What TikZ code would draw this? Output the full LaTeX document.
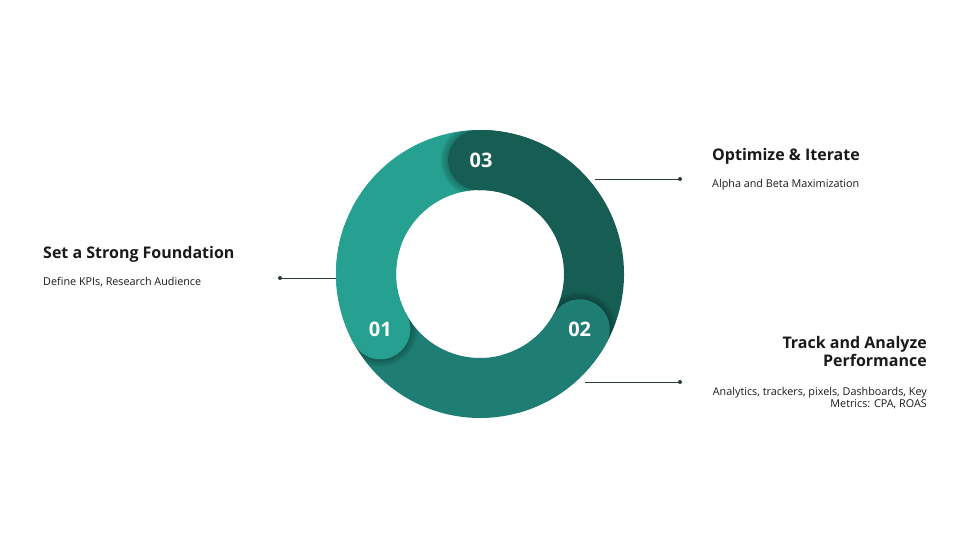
\documentclass[tikz,border=0pt]{standalone}
\usepackage{fontspec}
\setmainfont{Open Sans}
\usetikzlibrary{calc}
\definecolor{tealA}{HTML}{25A091}
\definecolor{tealB}{HTML}{1E7E73}
\definecolor{tealC}{HTML}{165E54}
\definecolor{inkline}{HTML}{2E3D3A}
\definecolor{ink}{HTML}{1A1A1A}

\begin{document}
\begin{tikzpicture}[x = 1pt, y = 1pt,
  heading/.style = {font = \fontsize{16}{17.8}\selectfont\bfseries, text = ink, inner sep = 0},
  detail/.style = {font = \fontsize{10.8}{12.4}\selectfont, text = ink, inner sep = 0},
  stepnum/.style = {font = \fontsize{20}{20}\selectfont\bfseries, text = white},
  leader/.style = {draw = inkline, line width = .8pt},
  band/.style = {line width = 60pt}]
\useasboundingbox (0,0) rectangle (960,540);
\fill[white] (0,0) rectangle (960,540);
\coordinate (c) at (480,266);
% leader lines, drawn first so the ring hides their inner ends
\coordinate (d1) at (280,262);
\coordinate (e1) at (345,262);
\coordinate (d2) at (680,158);
\coordinate (e2) at (585,158);
\coordinate (d3) at (680,361);
\coordinate (e3) at (595,361);
\draw[leader] (d1) -- (e1);
\draw[leader] (d2) -- (e2);
\draw[leader] (d3) -- (e3);
\foreach \d in {d1,d2,d3} \fill[inkline] (\d) circle (2);
% ring
\draw[band, tealA] ($(c)+(91:114)$) arc[start angle = 91, end angle = 209, radius = 114];
\draw[band, tealB] ($(c)+(209:114)$) arc[start angle = 209, end angle = 331, radius = 114];
\draw[band, tealC] ($(c)+(331:114)$) arc[start angle = 331, end angle = 451, radius = 114];
% rounded heads with a soft shadow on the next band
\foreach \a/\b/\col in {209/160/tealA, 331/285/tealB, 451/405/tealC} {
  \begin{scope}[even odd rule]
    \clip (c) circle (144) (c) circle (84);
    \foreach \k in {1,...,5} \fill[black, opacity = .05] ($(c)+(\a:114)$) circle (30+\k*1.5);
  \end{scope}
  \draw[band, \col] ($(c)+(\b:114)$) arc[start angle = \b, end angle = \a, radius = 114];
  \fill[\col] ($(c)+(\a:114)$) circle (30);
}
\node[stepnum] (n1) at ($(c)+(209:114)$) {01};
\node[stepnum] (n2) at ($(c)+(331:114)$) {02};
\node[stepnum] (n3) at ($(c)+(89.5:114)$) {03};
% texts
\node[heading, anchor = base west] (t1) at (43,281.7) {Set a Strong Foundation};
\node[detail, anchor = base west] (s1) at (43,254.3) {Define KPIs, Research Audience};
\node[heading, anchor = base west] (t3) at (712,379.3) {Optimize \& Iterate};
\node[detail, anchor = base west] (s3) at (712,352.7) {Alpha and Beta Maximization};
\node[heading, anchor = north east, align = right] (t2) at (927,204) {Track and Analyze\\Performance};
\node[detail, anchor = north east, align = right] (s2) at (927,153) {Analytics, trackers, pixels, Dashboards, Key\\Metrics: CPA, ROAS};
\end{tikzpicture}
\end{document}
